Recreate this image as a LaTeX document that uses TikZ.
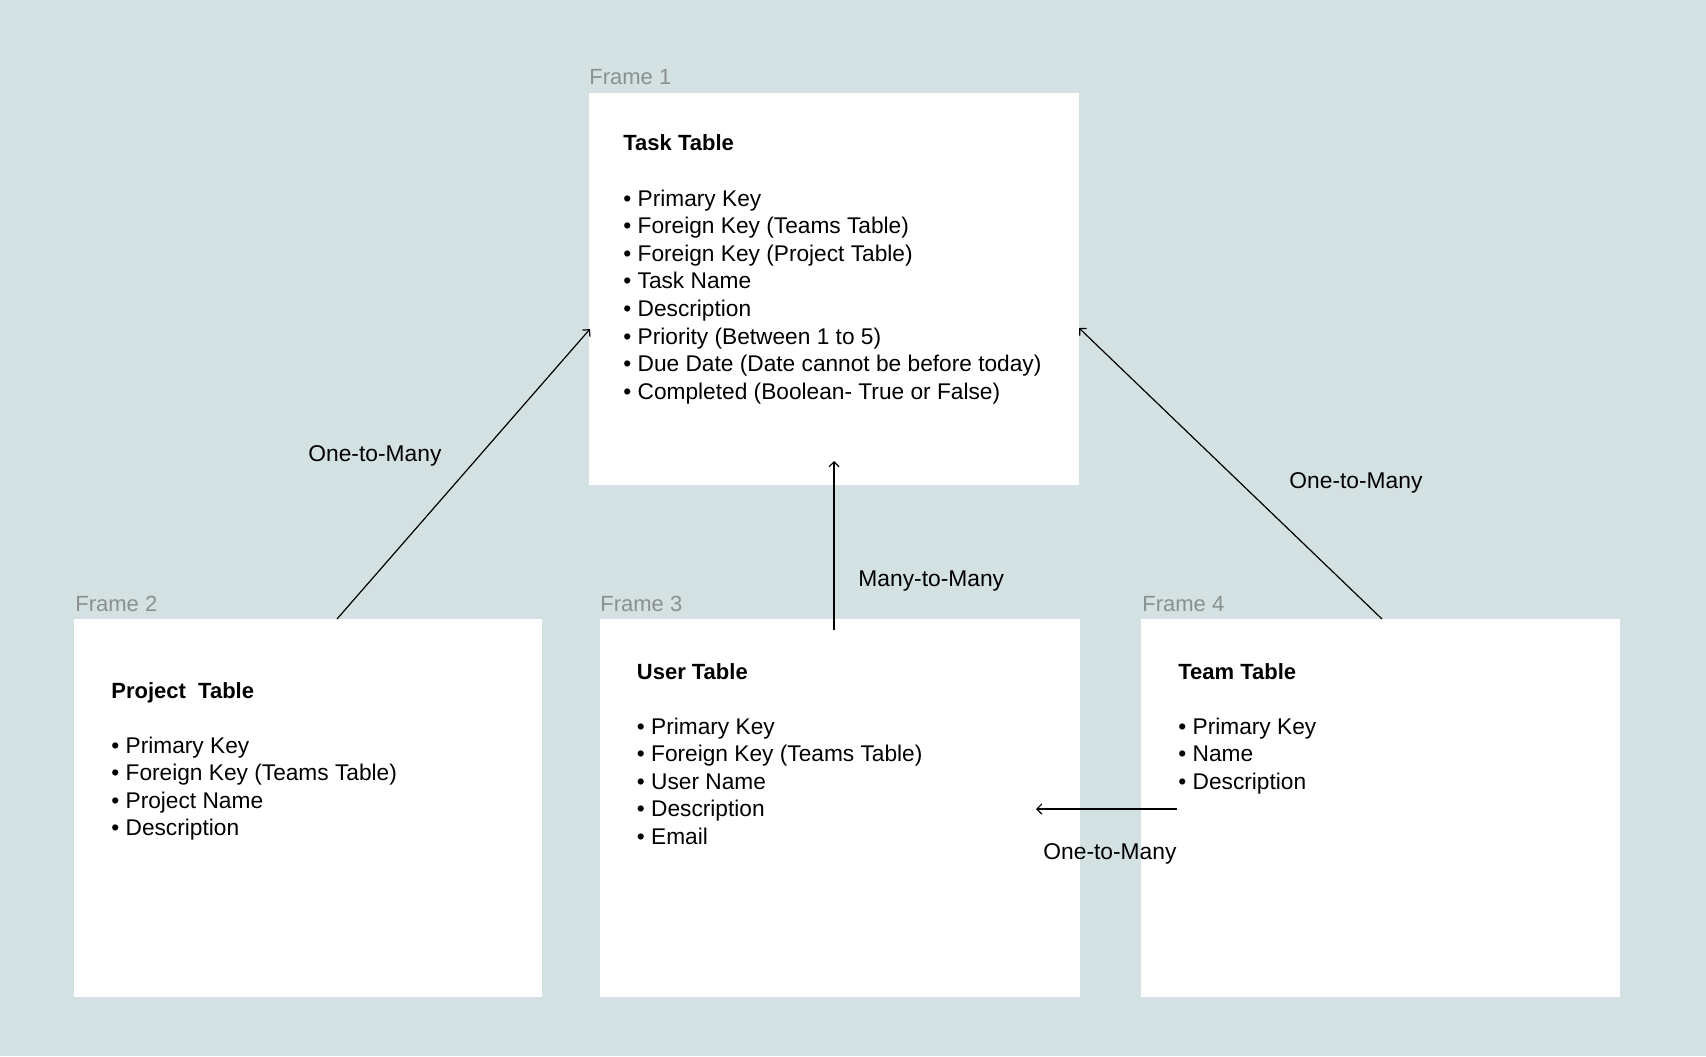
\documentclass[tikz,border=0pt]{standalone}
\usepackage{fontspec}
\setmainfont{Liberation Sans}
\usetikzlibrary{arrows.meta}
\definecolor{canvas}{HTML}{D4E1E2}
\definecolor{framegray}{HTML}{8A9091}
\tikzset{
  tablebox/.style={fill=white, draw=none, anchor=north west, inner sep=0pt},
  framelabel/.style={text=framegray, anchor=base west, inner sep=0pt, font=\fontsize{11}{13.8}\selectfont},
  tabletitle/.style={anchor=base west, inner sep=0pt, font=\fontsize{11}{13.8}\selectfont\bfseries},
  field/.style={anchor=base west, inner sep=0pt, font=\fontsize{11.35}{13.8}\selectfont},
  relation/.style={anchor=base west, inner sep=0pt, font=\fontsize{11.4}{13.8}\selectfont},
  link/.style={line width=0.6pt, -{Straight Barb[length=2.5pt,width=5pt]}}
}
\begin{document}
\begin{tikzpicture}[x=0.5pt,y=-0.5pt]
  % canvas
  \fill[canvas] (0,0) rectangle (1706,1056);
  \useasboundingbox (0,0) rectangle (1706,1056);
  % frames
  \node[tablebox, minimum width=245pt, minimum height=196pt] (f1) at (589,93) {};
  \node[tablebox, minimum width=234pt, minimum height=189pt] (f2) at (74,619) {};
  \node[tablebox, minimum width=240.25pt, minimum height=189pt] (f3) at (599.5,619) {};
  \node[tablebox, minimum width=239.5pt, minimum height=189pt] (f4) at (1141,619) {};
  \node[framelabel] (l1) at (589,84) {Frame 1};
  \node[framelabel] (l2) at (75,611) {Frame 2};
  \node[framelabel] (l3) at (600,611) {Frame 3};
  \node[framelabel] (l4) at (1142,611) {Frame 4};
  % task table
  \node[tabletitle] (task) at (623,150) {Task Table};
  \foreach \t [count=\i] in {Primary Key, Foreign Key (Teams Table), Foreign Key (Project Table),
      Task Name, Description, Priority (Between 1 to 5), Due Date (Date cannot be before today),
      Completed (Boolean- True or False)}
    \node[field] (task\i) at (623,{206+27.65*(\i-1)}) {• \t};
  % project table
  \node[tabletitle] (project) at (111,698) {Project\ \ Table};
  \foreach \t [count=\i] in {Primary Key, Foreign Key (Teams Table), Project Name, Description}
    \node[field] (project\i) at (111,{753+27.65*(\i-1)}) {• \t};
  % user table
  \node[tabletitle] (user) at (636.5,679) {User Table};
  \foreach \t [count=\i] in {Primary Key, Foreign Key (Teams Table), User Name, Description, Email}
    \node[field] (user\i) at (636.5,{734+27.65*(\i-1)}) {• \t};
  % team table
  \node[tabletitle] (team) at (1178,679) {Team Table};
  \foreach \t [count=\i] in {Primary Key, Name, Description}
    \node[field] (team\i) at (1178,{734+27.65*(\i-1)}) {• \t};
  % relation end points
  \coordinate (pfrom) at (337,619);
  \coordinate (pto) at (590,329);
  \coordinate (ufrom) at (834,630);
  \coordinate (uto) at (834,461);
  \coordinate (tfrom) at (1382,619);
  \coordinate (tto) at (1079,328);
  \coordinate (mfrom) at (1177,809);
  \coordinate (mto) at (1036,809);
  \draw[link] (pfrom) -- (pto);
  \draw[link] (ufrom) -- (uto);
  \draw[link] (tfrom) -- (tto);
  \draw[link] (mfrom) -- (mto);
  \node[relation] (r1) at (308,461) {One-to-Many};
  \node[relation] (r2) at (858,586) {Many-to-Many};
  \node[relation] (r3) at (1289,488) {One-to-Many};
  \node[relation] (r4) at (1043,859) {One-to-Many};
\end{tikzpicture}
\end{document}
